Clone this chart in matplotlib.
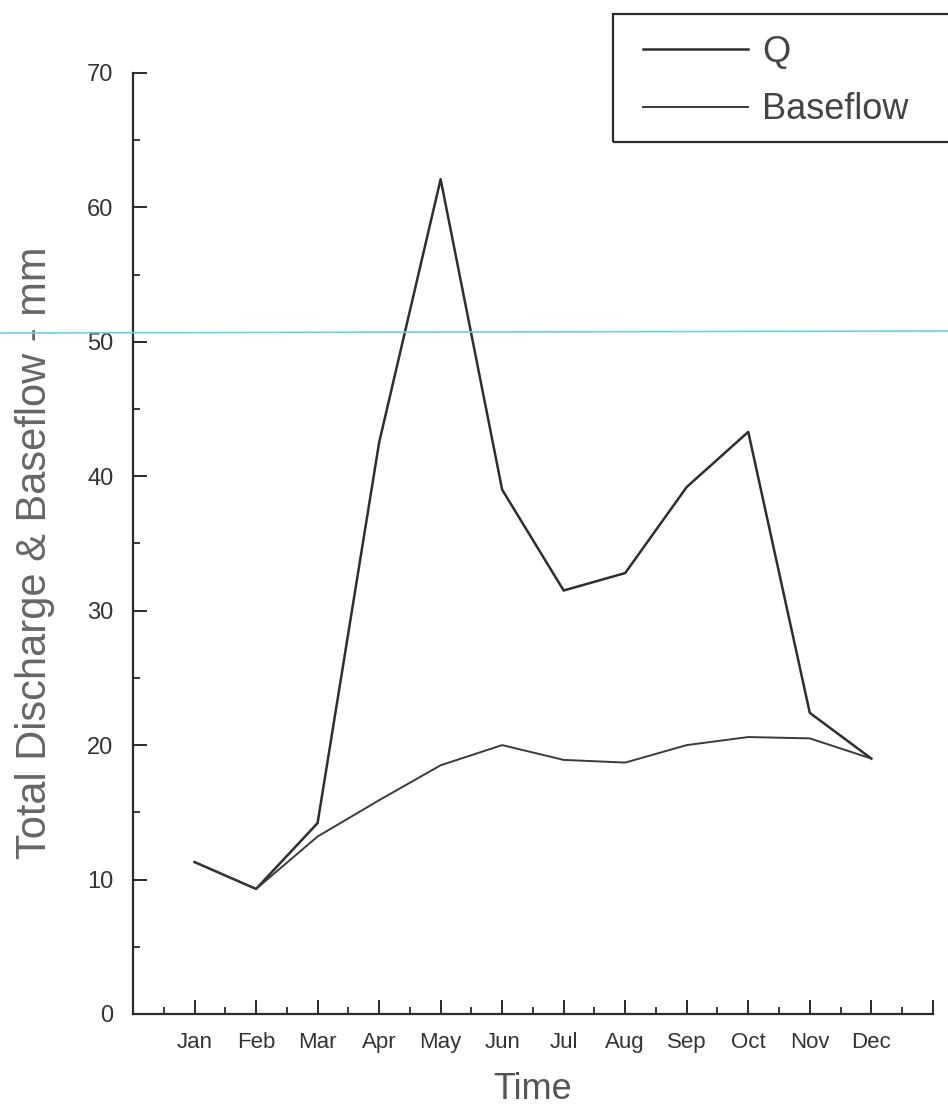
import matplotlib.pyplot as plt
from matplotlib.lines import Line2D
from matplotlib.patches import Rectangle
from matplotlib.ticker import MultipleLocator
import numpy as np

# monthly values
months = ['Jan', 'Feb', 'Mar', 'Apr', 'May', 'Jun',
          'Jul', 'Aug', 'Sep', 'Oct', 'Nov', 'Dec']
q_total = [11.3, 9.3, 14.2, 42.5, 62.1, 39.0, 31.5, 32.8, 39.2, 43.3, 22.4, 19.0]
baseflow = [11.3, 9.3, 13.2, 15.9, 18.5, 20.0, 18.9, 18.7, 20.0, 20.6, 20.5, 19.0]

plt.rcParams['font.family'] = ['Liberation Sans', 'DejaVu Sans']

fig = plt.figure(figsize=(9.48, 11.14), dpi=100)
ax = fig.add_axes([0.1403, 0.0898, 0.8437, 0.8447])

x = np.arange(1, len(months) + 1)
ax.plot(x, q_total, color='#2e2e2e', lw=1.8, label='Q')
ax.plot(x, baseflow, color='#3a3a3a', lw=1.4, label='Baseflow')

ax.set_xlim(0, 13)
ax.set_ylim(0, 70)
ax.spines['top'].set_visible(False)
ax.spines['right'].set_visible(False)
for s in ['left', 'bottom']:
    ax.spines[s].set_linewidth(1.6)
    ax.spines[s].set_color('#2a2a2a')

ax.set_xticks(np.arange(0, 14))
ax.set_xticklabels([''] + months + [''])
ax.xaxis.set_minor_locator(MultipleLocator(0.5))
ax.yaxis.set_major_locator(MultipleLocator(10))
ax.yaxis.set_minor_locator(MultipleLocator(5))
ax.tick_params(which='major', direction='in', length=10, width=1.4, color='#2a2a2a',
               labelcolor='#333333')
ax.tick_params(which='minor', direction='in', length=5, width=1.3, color='#2a2a2a')
ax.tick_params(axis='x', labelsize=16, pad=13)
ax.tick_params(axis='y', labelsize=17, pad=14)

ax.set_xlabel('Time', fontsize=26, color='#555555', labelpad=14)
ax.set_ylabel('Total Discharge & Baseflow - mm', fontsize=30, color='#666666')
ax.yaxis.set_label_coords(-0.098, 0.49)

# legend without its own frame, box drawn running off the right edge like the scan
leg = fig.legend(loc='upper left', bbox_to_anchor=(625 / 948, 0.985), fontsize=26,
                 frameon=False, handlelength=2.9, handletextpad=0.4,
                 borderpad=0.5, labelspacing=0.62, borderaxespad=0)
for t in leg.get_texts():
    t.set_color('#444444')
fig.add_artist(Rectangle((613 / 948, 1 - 142 / 1114), 0.4, 128 / 1114,
                         transform=fig.transFigure, fill=False,
                         edgecolor='#2a2a2a', lw=1.6, clip_on=False))

# cyan scan line across the page
fig.add_artist(Line2D([0, 1], [1 - 333 / 1114, 1 - 331 / 1114], color='#5fd6e0', lw=1.2))

fig.savefig('out.png', dpi=100)
